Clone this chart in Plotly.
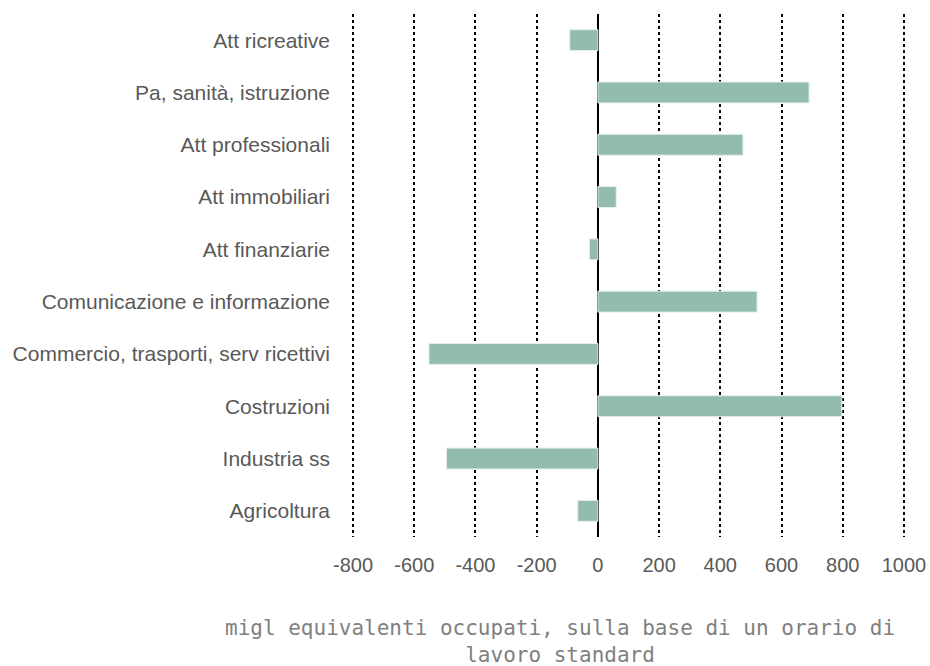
import plotly.graph_objects as go

categories = ["Agricoltura", "Industria ss", "Costruzioni",
              "Commercio, trasporti, serv ricettivi",
              "Comunicazione e informazione", "Att finanziarie",
              "Att immobiliari", "Att professionali",
              "Pa, sanità, istruzione", "Att ricreative"]
values = [-66, -495, 797, -552, 520, -28, 60, 474, 690, -92]
tick_vals = [-800, -600, -400, -200, 0, 200, 400, 600, 800, 1000]
tick_text = ["-800", "-600", "-400", "-200", "0", "200", "400", "600", "800", "1000"]
axis_title = "migl equivalenti occupati, sulla base di un orario di<br>lavoro standard"

W, H = 930, 666
L, R, T, B = 350, 23, 14, 129

fig = go.Figure(go.Bar(
    x=values, y=categories, orientation="h",
    marker=dict(color="#93bcb0", line=dict(color="#e6efec", width=1)),
    width=0.4,
))

fig.update_layout(
    width=W, height=H,
    margin=dict(l=L, r=R, t=T, b=B, autoexpand=False),
    paper_bgcolor="white", plot_bgcolor="white",
    font=dict(family="Liberation Sans, Arial, sans-serif", size=18, color="#595959"),
    showlegend=False,
    xaxis=dict(
        range=[-810, 1010],
        tickvals=tick_vals, ticktext=tick_text,
        showgrid=True, gridcolor="black", griddash="dot", gridwidth=2,
        zeroline=True, zerolinecolor="black", zerolinewidth=2,
        showline=False, ticks="",
        ticklabelstandoff=14,
        tickfont=dict(size=20, color="#595959"),
    ),
    yaxis=dict(
        categoryorder="array", categoryarray=categories,
        range=[-0.5, 9.5],
        showgrid=False, zeroline=False, showline=False, ticks="",
        ticklabelstandoff=19,
        tickfont=dict(size=21, color="#595959"),
    ),
    annotations=[dict(
        text=axis_title, xref="paper", yref="paper",
        x=(560 - L) / (W - L - R), y=(H - B - 641) / (H - B - T),
        xanchor="center", yanchor="middle", showarrow=False,
        font=dict(family="DejaVu Sans Mono, monospace", size=21, color="#808080"),
        align="center",
    )],
)

fig.write_html(
    "out.html",
    config={"displayModeBar": False},
    post_script="document.body.style.margin='0';document.body.style.overflow='hidden';",
)
